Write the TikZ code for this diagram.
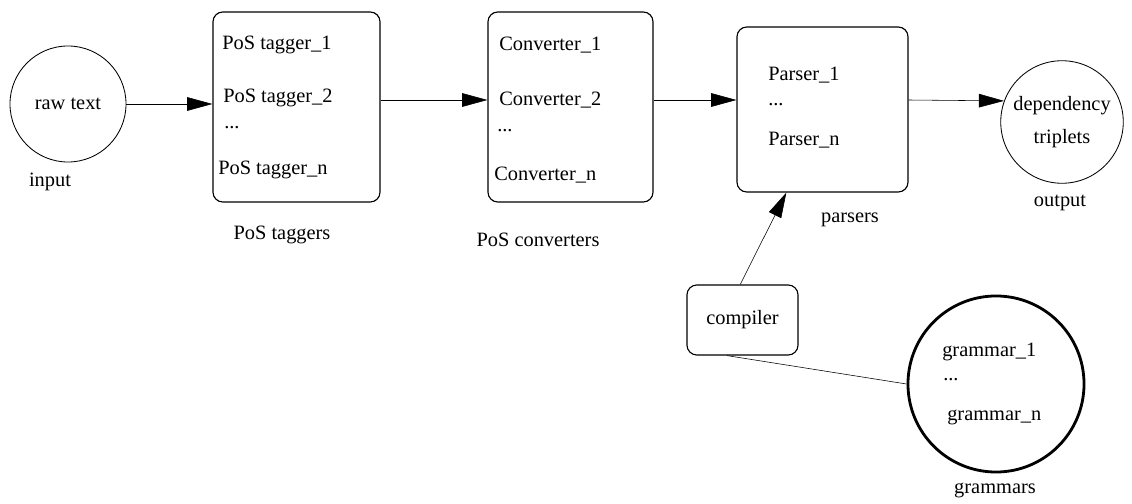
\documentclass[tikz,border=0pt]{standalone}
\usepackage{fontspec}
\setmainfont{Liberation Serif}
\usetikzlibrary{arrows.meta,calc}
\begin{document}
\begin{tikzpicture}[x=0.025cm, y=-0.025cm, >={Triangle[length=6.3mm,width=3.4mm]},
  every node/.style={font=\fontsize{14.5}{17}\selectfont},
  box/.style={draw, rounded corners=7pt, line width=0.8pt},
  ring/.style={draw, circle, line width=0.6pt, minimum size=2.85cm},
  txt/.style={anchor=west, inner sep=0pt}]
\useasboundingbox (0,0) rectangle (1132,504);
\coordinate (mid) at (0,100);
\node[ring, minimum size=2.9cm] (raw) at (68,104) {raw text};
\node (input) at (50,182) {input};
\node[box, minimum width=4.175cm, minimum height=4.75cm] (taggers) at (296.5,107) {};
\node[txt] (t1) at (222,45) {PoS tagger\_1};
\node[txt] (t2) at (223,98) {PoS tagger\_2};
\node[txt] (t3) at (224,128) {...};
\node[txt] (tn) at (218,170) {PoS tagger\_n};
\node (taglbl) at (282,235) {PoS taggers};
\node[box, minimum width=4.125cm, minimum height=4.75cm] (conv) at (570.5,107) {};
\node[txt] (c1) at (499,45) {Converter\_1};
\node[txt] (c2) at (499,100) {Converter\_2};
\node[txt] (c3) at (497,131) {...};
\node[txt] (cn) at (494,175) {Converter\_n};
\node (convlbl) at (538,240) {PoS converters};
\node[box, minimum width=4.275cm, minimum height=4.125cm] (parsers) at (822.5,109.5) {};
\node[txt] (p1) at (768,75) {Parser\_1};
\node[txt] (p2) at (768,105) {...};
\node[txt] (pn) at (768,140) {Parser\_n};
\node (parlbl) at (850,220) {parsers};
\node[ring, align=center] (dep) at (1062,122) {dependency\\[6pt]triplets};
\node (output) at (1060,203) {output};
\node[box, minimum width=2.775cm, minimum height=1.75cm] (comp) at (742.5,320) {compiler};
\node[ring, line width=2pt, minimum size=4.4cm] (gram) at (996,384) {};
\node[txt] (g1) at (942,352) {grammar\_1};
\node[txt] (g2) at (943,380) {...};
\node[txt] (gn) at (947,417) {grammar\_n};
\node (gramlbl) at (995,490) {grammars};
\draw[->] (raw.east) -- (raw.east -| taggers.west);
\draw[->] (taggers.east |- mid) -- (conv.west |- mid);
\draw[->] (conv.east |- mid) -- (parsers.west |- mid);
\draw[->] (parsers.east |- mid) -- (dep.160);
\draw[->] ($(comp.north west)!0.48!(comp.north east)$) -- ($(parsers.south west)!0.29!(parsers.south east)$);
\draw ($(comp.south west)!0.36!(comp.south east)$) -- (gram.west);
\end{tikzpicture}
\end{document}
